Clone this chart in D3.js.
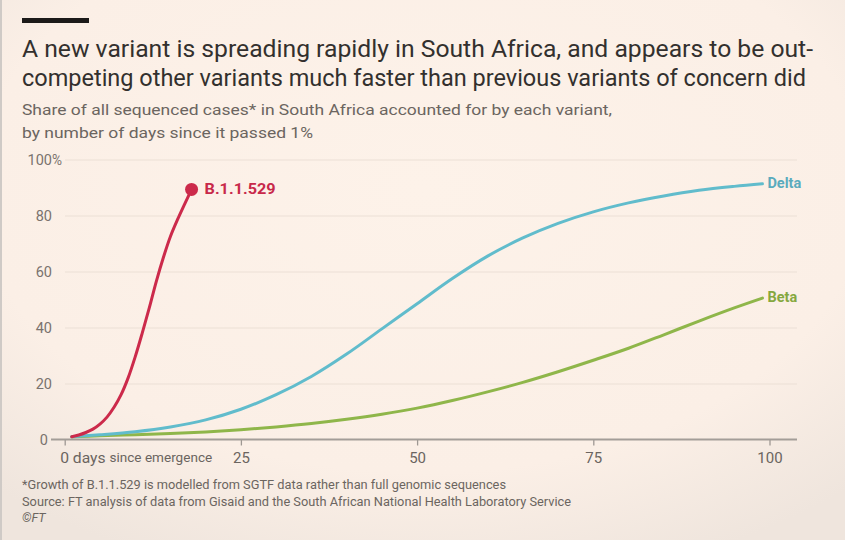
<!DOCTYPE html>
<html>
<head>
<meta charset="utf-8">
<script src="https://cdnjs.cloudflare.com/ajax/libs/d3/7.8.5/d3.min.js"></script>
<style>
  html, body { margin: 0; padding: 0; background: #fdf2e9; }
  svg { display: block; }
</style>
</head>
<body>
<svg id="chart" width="845" height="540"></svg>
<script>
// ---- Data ----
const omicronDays   = [1, 2, 3, 4, 5, 6, 7, 8, 9, 10, 11, 12, 13, 14, 15, 16, 17, 18];
const omicronValues = [1, 1.6, 2.5, 3.7, 5.5, 8, 11.5, 16, 22, 29.5, 38, 47, 56.5, 65, 72.5, 78.5, 84, 89.3];

const deltaDays   = [1, 5, 10, 15, 20, 25, 30, 35, 40, 45, 50, 55, 60, 65, 70, 75, 80, 85, 90, 95, 99];
const deltaValues = [1, 1.7, 2.8, 4.5, 7, 10.8, 16, 22.5, 30.5, 39.5, 48.5, 57.5, 65.5, 72, 77.2, 81.3, 84.5, 87, 89, 90.4, 91.3];

const betaDays   = [1, 5, 10, 15, 20, 25, 30, 35, 40, 45, 50, 55, 60, 65, 70, 75, 80, 85, 90, 95, 99];
const betaValues = [1, 1.3, 1.7, 2.1, 2.7, 3.5, 4.5, 5.7, 7.2, 9, 11.2, 13.9, 17, 20.4, 24.2, 28.3, 32.6, 37.4, 42.3, 47, 50.5];

const seriesNames = ["B.1.1.529", "Delta", "Beta"];
const xTicks = [0, 25, 50, 75, 100];
const yTicks = [0, 20, 40, 60, 80, 100];

const titleLines = [
  "A new variant is spreading rapidly in South Africa, and appears to be out-",
  "competing other variants much faster than previous variants of concern did"
];
const subtitleLines = [
  "Share of all sequenced cases* in South Africa accounted for by each variant,",
  "by number of days since it passed 1%"
];
const footLines = [
  "*Growth of B.1.1.529 is modelled from SGTF data rather than full genomic sequences",
  "Source: FT analysis of data from Gisaid and the South African National Health Laboratory Service",
  "\u00A9FT"
];

// ---- Drawing ----
const svg = d3.select("#chart");
const FONT = "Roboto, 'Open Sans', sans-serif";

const defs = svg.append("defs");
const grad = defs.append("radialGradient").attr("id", "bg")
  .attr("cx", "50%").attr("cy", "35%").attr("r", "75%");
grad.append("stop").attr("offset", "0%").attr("stop-color", "#fdf2e9");
grad.append("stop").attr("offset", "70%").attr("stop-color", "#fbefe6");
grad.append("stop").attr("offset", "100%").attr("stop-color", "#efe5dd");

svg.append("rect").attr("width", 845).attr("height", 540).attr("fill", "url(#bg)");
svg.append("rect").attr("x", 0).attr("y", 0).attr("width", 2).attr("height", 540).attr("fill", "#cfcac6");

// top bar
svg.append("rect").attr("x", 22).attr("y", 18).attr("width", 67).attr("height", 5).attr("fill", "#1c1a19");

// title
const titleW = [791, 784];
titleLines.forEach((t, i) => {
  svg.append("text").attr("x", 22).attr("y", 57 + i * 29)
    .attr("font-family", FONT).attr("font-size", 23.5).attr("fill", "#33302e")
    .attr("textLength", titleW[i]).attr("lengthAdjust", "spacingAndGlyphs")
    .text(t);
});
const subW = [590, 291];
subtitleLines.forEach((t, i) => {
  svg.append("text").attr("x", 22).attr("y", 115 + i * 23)
    .attr("font-family", FONT).attr("font-size", 15.5).attr("fill", "#6b6560")
    .attr("textLength", subW[i]).attr("lengthAdjust", "spacingAndGlyphs")
    .text(t);
});

// scales
const x = d3.scaleLinear().domain([0, 100]).range([64.7, 769.5]);
const y = d3.scaleLinear().domain([0, 100]).range([439.5, 159.5]);
const gridLeft = 65, gridRight = 797;

// y gridlines + labels
const yAxis = d3.axisRight(y).tickValues(yTicks).tickSize(gridRight - gridLeft)
  .tickFormat(d => d);
const yg = svg.append("g").attr("transform", `translate(${gridLeft},0)`).call(yAxis);
yg.select(".domain").remove();
yg.selectAll(".tick line").attr("stroke", "#ebdfd5").attr("stroke-width", 1.2)
  .filter(d => d === 0).remove();
yg.selectAll(".tick text")
  .attr("x", d => d === 0 ? -17 : -13)
  .attr("dy", "0.35em")
  .attr("text-anchor", "end")
  .attr("font-family", FONT).attr("font-size", 14.5).attr("fill", "#7a736e");
yg.selectAll(".tick").filter(d => d === 100).append("text")
  .attr("x", -13).attr("dy", "0.35em").attr("text-anchor", "start")
  .attr("font-family", FONT).attr("font-size", 14.5).attr("fill", "#7a736e")
  .attr("textLength", 10).attr("lengthAdjust", "spacingAndGlyphs")
  .text("%");

// x axis
const xAxis = d3.axisBottom(x).tickValues(xTicks).tickSize(6).tickFormat(d => d);
const xg = svg.append("g").attr("transform", `translate(0,${y(0)})`).call(xAxis);
xg.select(".domain").remove();
xg.selectAll(".tick line").attr("stroke", "#9e9893").attr("stroke-width", 1.3);
xg.selectAll(".tick text")
  .attr("y", 12).attr("dy", "0")
  .attr("font-family", FONT).attr("font-size", 15).attr("fill", "#6b6560")
  .attr("dominant-baseline", "hanging");
// zero label: "0 days since emergence"
const zeroText = xg.selectAll(".tick").filter(d => d === 0).select("text");
zeroText.text(null).attr("text-anchor", "start").attr("x", -5)
  .attr("textLength", 152).attr("lengthAdjust", "spacingAndGlyphs");
zeroText.append("tspan").attr("font-size", 15).text("0 days ");
zeroText.append("tspan").attr("font-size", 13).text("since emergence");

// baseline
svg.append("line").attr("x1", 51).attr("x2", gridRight)
  .attr("y1", y(0)).attr("y2", y(0))
  .attr("stroke", "#a39d98").attr("stroke-width", 2);

// lines
const line = d3.line().x(d => x(d[0])).y(d => y(d[1])).curve(d3.curveCatmullRom.alpha(0.5));
const series = [
  { name: seriesNames[2], days: betaDays, values: betaValues, color: "#8fb64a", label: "#86a83f" },
  { name: seriesNames[1], days: deltaDays, values: deltaValues, color: "#61bccc", label: "#5aabbd" },
  { name: seriesNames[0], days: omicronDays, values: omicronValues, color: "#cc2a4b", label: "#c8294a" }
];
series.forEach(s => {
  const pts = s.days.map((d, i) => [d, s.values[i]]);
  svg.append("path").datum(pts).attr("d", line)
    .attr("fill", "none").attr("stroke", s.color).attr("stroke-width", 3)
    .attr("stroke-linecap", "round");
  const last = pts[pts.length - 1];
  if (s.name === "B.1.1.529") {
    svg.append("circle").attr("cx", x(last[0])).attr("cy", y(last[1])).attr("r", 6.5)
      .attr("fill", s.color);
    svg.append("text").attr("x", x(last[0]) + 13).attr("y", y(last[1]) - 1)
      .attr("dy", "0.35em").attr("font-family", FONT).attr("font-weight", "bold")
      .attr("font-size", 14.5).attr("fill", s.label)
      .attr("textLength", 71).attr("lengthAdjust", "spacingAndGlyphs")
      .text(s.name);
  } else {
    svg.append("text").attr("x", x(last[0]) + 5).attr("y", y(last[1]) - 1)
      .attr("dy", "0.35em").attr("font-family", FONT).attr("font-weight", "bold")
      .attr("font-size", 14.5).attr("fill", s.label)
      .text(s.name);
  }
});

// footnotes
const footW = [484, 549, null];
footLines.forEach((t, i) => {
  const tx = svg.append("text").attr("x", 22).attr("y", 489 + i * 16.5)
    .attr("font-family", FONT).attr("font-size", 12.5).attr("fill", "#6b6560")
    .text(t);
  if (footW[i]) tx.attr("textLength", footW[i]).attr("lengthAdjust", "spacingAndGlyphs");
  else tx.attr("font-style", "italic");
});
</script>
</body>
</html>
